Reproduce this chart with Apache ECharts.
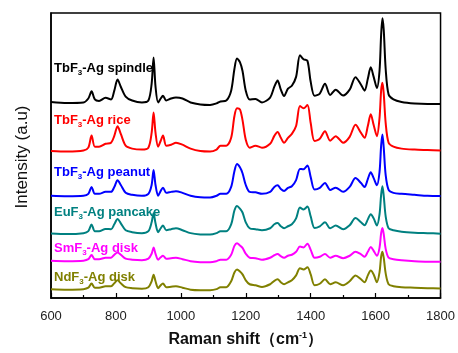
<!DOCTYPE html>
<html>
<head>
<meta charset="utf-8">
<script src="https://cdn.jsdelivr.net/npm/echarts@6/dist/echarts.min.js"></script>
<style>
  html, body { margin: 0; padding: 0; background: #fff; }
  #main { width: 458px; height: 353px; }
</style>
</head>
<body>
<div id="main"></div>
<script>
// Raman shift sampling points (cm-1)
var shift = [600, 650, 700, 715, 725, 735, 748, 768, 785, 795, 805, 815, 830, 850, 880, 900, 910, 916, 922, 930,
  938, 945, 955, 970, 985, 1005, 1030, 1060, 1090, 1110, 1122, 1140, 1155, 1165, 1173, 1182, 1190, 1200, 1212, 1230,
  1250, 1275, 1288, 1298, 1308, 1318, 1330, 1342, 1355, 1367, 1378, 1390, 1400, 1412, 1428, 1444, 1460, 1477, 1500, 1520,
  1538, 1555, 1566, 1576, 1585, 1594, 1604, 1612, 1617, 1621, 1625, 1631, 1640, 1655, 1680, 1720, 1760, 1800];

// intensities (a.u., already offset for stacking)
var spindle = [199.5, 198.5, 199, 203, 210.3, 202, 200.5, 203.7, 202, 211, 222.3, 215, 205, 201, 199, 201, 218, 244.7, 215, 199,
  203, 205.7, 201, 203, 204, 203, 199, 197, 196.5, 198, 200, 201, 211, 233, 243.7, 240, 231, 211, 202, 202.5,
  199, 204, 215, 221.3, 212, 205.5, 213, 216, 225, 247, 243, 241.3, 220, 205.7, 208, 218, 206.5, 212, 206, 212,
  224.7, 217, 211, 223, 234.7, 225, 213.7, 231, 268, 284.7, 273, 233, 207, 202, 199.5, 198, 197.5, 197.5];

var rice = [149.7, 149, 150, 153, 165.3, 154, 154, 157, 158, 165, 174.7, 167, 155, 152, 151, 153, 168, 188.7, 168, 154,
  160, 165.3, 155, 156, 158, 156, 152, 149.5, 149, 151, 155, 155, 163, 185, 193, 192, 181, 161, 153, 155,
  153, 157, 165, 169, 163, 158, 163, 167, 175, 195.3, 193, 196.3, 178, 159.7, 162, 169.7, 160, 164.7, 158, 164,
  176.3, 168, 163, 175, 187, 176, 164.7, 183, 211, 219, 208, 178, 158, 154, 152, 151, 150.5, 150];

var peanut = [104, 103.5, 104, 106, 113, 106, 106, 108, 108, 113, 119.7, 115, 107, 105, 104, 106, 115, 130.3, 115, 104,
  109, 112.3, 107, 108, 108.7, 107, 104, 102.5, 102.3, 104, 106, 106, 113, 129, 136.3, 133, 127, 115, 108, 107.5,
  106, 108, 113, 114.7, 111, 109, 112, 113.7, 120, 131.3, 131, 134.7, 123, 110.3, 112, 117, 110, 112.3, 108, 113,
  122, 117, 113, 121, 128, 122, 114.7, 128, 155, 166.3, 153, 125, 110, 107, 106, 105, 104, 103.7];

var pancake = [65.7, 65, 66, 68, 74.7, 68, 68, 70.3, 70, 75, 80.3, 76, 69, 67, 66, 68, 77, 86.3, 76, 67,
  71, 73.7, 69, 70, 71, 69, 66, 64.7, 64.5, 66, 68, 68, 75, 89, 93.7, 91, 87, 77, 71, 70,
  69, 71, 75, 76.3, 73, 71, 73, 75, 81, 92, 90, 93, 83, 71.3, 73, 77, 71, 73.7, 70, 74,
  81.3, 77, 74, 80, 85.3, 81, 73.7, 85, 105, 113.7, 104, 83, 71, 69, 67.5, 66.5, 66, 65.5];

var smDisk = [38, 37.5, 38, 39.5, 43.7, 39.5, 39.5, 41, 41, 44, 46.3, 44, 40, 39, 38.5, 40, 45, 51.3, 45, 39,
  41.5, 43, 40, 40.5, 41, 39.5, 37.5, 36.5, 36.3, 37.5, 39, 39, 44, 53, 55.7, 53.5, 51, 45, 41, 40.5,
  39, 41, 43.5, 44.7, 42.5, 41, 43, 44, 47, 52.3, 51.5, 55.3, 49, 41, 42, 44.7, 41, 43, 40.5, 43,
  47, 44.5, 42, 47, 52, 48, 43, 51, 66, 71.3, 65, 50, 41, 39.5, 38.5, 37.5, 37, 37];

var ndDisk = [9, 8.5, 9, 10.5, 14.7, 10.5, 10.5, 12, 12, 15, 18, 15, 11, 10, 9.5, 11, 17, 23.7, 17, 10,
  13, 14.7, 11, 11.5, 12, 10.5, 8.5, 8, 8, 9, 11, 11, 17, 26, 29, 27, 24, 18, 14, 13,
  11.3, 14, 17.5, 19, 16, 14, 16, 18, 23, 30.3, 29, 31.3, 24, 13, 14.5, 19, 14, 16, 13, 17,
  23, 19, 16, 23, 28, 24, 16, 26, 42, 47, 41, 25, 14, 12, 11, 10.5, 10, 9.7];

var names = ['TbF3-Ag spindle', 'TbF3-Ag rice', 'TbF3-Ag peanut', 'EuF3-Ag pancake', 'SmF3-Ag disk', 'NdF3-Ag disk'];
var labels = ['TbF{s|3}-Ag spindle', 'TbF{s|3}-Ag rice', 'TbF{s|3}-Ag peanut', 'EuF{s|3}-Ag pancake', 'SmF{s|3}-Ag disk', 'NdF{s|3}-Ag disk'];
var colors = ['#000000', '#ff0000', '#0000ff', '#008080', '#ff00ff', '#808000'];
var spectra = [spindle, rice, peanut, pancake, smDisk, ndDisk];
var labelY = [70, 122, 174, 214, 250, 279];

var myChart = echarts.init(document.getElementById('main'));

var series = spectra.map(function (vals, k) {
  return {
    name: names[k],
    type: 'line',
    showSymbol: false,
    smooth: 0.3,
    lineStyle: { color: colors[k], width: 2 },
    data: vals.map(function (v, i) { return [shift[i], v]; })
  };
});

var graphic = labels.map(function (t, k) {
  return {
    type: 'text',
    left: 54,
    top: labelY[k] - 8,
    style: {
      text: t,
      fill: colors[k],
      font: 'bold 13px "Liberation Sans", Arial, sans-serif',
      rich: {
        s: { fontSize: 8, fontWeight: 'bold', fill: colors[k], padding: [9, 0, 0, 0] }
      }
    }
  };
});
// y axis title
graphic.push({
  type: 'text',
  x: 22,
  y: 157,
  rotation: Math.PI / 2,
  style: {
    text: 'Intensity (a.u)',
    fill: '#111',
    font: '17px "Liberation Sans", Arial, sans-serif',
    align: 'center',
    verticalAlign: 'middle'
  }
});

option = {
  animation: false,
  grid: { left: 51, right: 16, top: 13, bottom: 50, show: true, borderColor: '#000', borderWidth: 1.5 },
  xAxis: {
    type: 'value',
    min: 600,
    max: 1800,
    interval: 200,
    name: 'Raman shift（cm{sup|-1}）',
    nameLocation: 'middle',
    nameGap: 33,
    nameTextStyle: {
      color: '#111',
      fontSize: 16,
      fontWeight: 'bold',
      fontFamily: '"Liberation Sans", Arial, sans-serif',
      rich: { sup: { fontSize: 9, fontWeight: 'bold', color: '#111', padding: [0, 0, 9, 0] } }
    },
    axisLine: { lineStyle: { color: '#000', width: 1.5 } },
    axisTick: { inside: true, length: 5, lineStyle: { color: '#000', width: 1.2 } },
    minorTick: { show: true, splitNumber: 2, length: 3, lineStyle: { color: '#000', width: 1.2 } },
    axisLabel: {
      color: '#222',
      fontSize: 13,
      margin: 12,
      fontFamily: '"Liberation Sans", Arial, sans-serif',
      formatter: function (v) { return String(v); }
    },
    splitLine: { show: false }
  },
  yAxis: {
    type: 'value',
    min: 0,
    max: 290,
    axisLine: { show: true, lineStyle: { color: '#000', width: 1.5 } },
    axisTick: { show: false },
    axisLabel: { show: false },
    splitLine: { show: false }
  },
  graphic: graphic,
  series: series
};

if (option && typeof option === "object") {
  myChart.setOption(option, true);
}
</script>
</body>
</html>
